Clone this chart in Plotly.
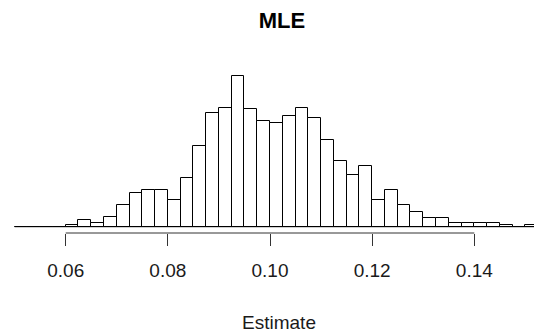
import plotly.graph_objects as go

# Histogram of MLE estimates: bin starts (width 0.0025) and counts
bin_width = 0.0025
bin_starts = [0.0500, 0.0525, 0.0550, 0.0575, 0.0600, 0.0625, 0.0650, 0.0675,
              0.0700, 0.0725, 0.0750, 0.0775, 0.0800, 0.0825, 0.0850, 0.0875,
              0.0900, 0.0925, 0.0950, 0.0975, 0.1000, 0.1025, 0.1050, 0.1075,
              0.1100, 0.1125, 0.1150, 0.1175, 0.1200, 0.1225, 0.1250, 0.1275,
              0.1300, 0.1325, 0.1350, 0.1375, 0.1400, 0.1425, 0.1450, 0.1475,
              0.1500, 0.1525]
counts = [0, 0, 0, 0, 1, 4, 2, 6,
          13, 20, 22, 22, 16, 29, 48, 68,
          71, 90, 70, 63, 62, 66, 71, 65,
          52, 39, 31, 36, 16, 22, 13, 9,
          5, 5, 2, 2, 2, 2, 1, 0,
          1, 0]
tick_vals = [0.06, 0.08, 0.10, 0.12, 0.14]
tick_text = ["0.06", "0.08", "0.10", "0.12", "0.14"]

centers = [s + bin_width / 2 for s in bin_starts]

fig = go.Figure()
fig.add_trace(go.Bar(
    x=centers, y=counts, width=[bin_width] * len(counts),
    marker=dict(color="white", line=dict(color="black", width=1)),
    hoverinfo="skip", showlegend=False,
))

# baseline (zero-height bins drawn as lines in R)
fig.add_shape(type="line", xref="x", yref="y",
              x0=bin_starts[0], x1=bin_starts[-1] + bin_width, y0=0, y1=0,
              line=dict(color="black", width=1))
# axis line spanning only first to last tick (R style)
fig.add_shape(type="line", xref="x", yref="paper",
              x0=tick_vals[0], x1=tick_vals[-1], y0=0, y1=0,
              line=dict(color="#333333", width=1))

font_family = "Liberation Sans, Arial, sans-serif"

fig.update_layout(
    width=542, height=333,
    margin=dict(l=0, r=0, t=32, b=108),
    paper_bgcolor="white", plot_bgcolor="white",
    bargap=0,
    font=dict(family=font_family, size=19, color="black"),
    title=dict(text="<b>MLE</b>", x=274 / 542, xanchor="center",
               y=1 - 12 / 333, yanchor="middle",
               font=dict(family=font_family, size=22, color="black")),
    xaxis=dict(
        range=[0.0487025, 0.154822],
        tickvals=tick_vals, ticktext=tick_text,
        ticks="outside", ticklen=12, tickwidth=1, tickcolor="#333333",
        showgrid=False, zeroline=False, showline=False,
        tickfont=dict(family=font_family, size=19, color="#1a1a1a"),
        ticklabelstandoff=8,
        title=dict(text="Estimate", standoff=35,
                   font=dict(family=font_family, size=19, color="#1a1a1a")),
    ),
    yaxis=dict(range=[-3.76, 111.5], visible=False, showgrid=False,
               zeroline=False),
)

fig.write_html("out.html")
